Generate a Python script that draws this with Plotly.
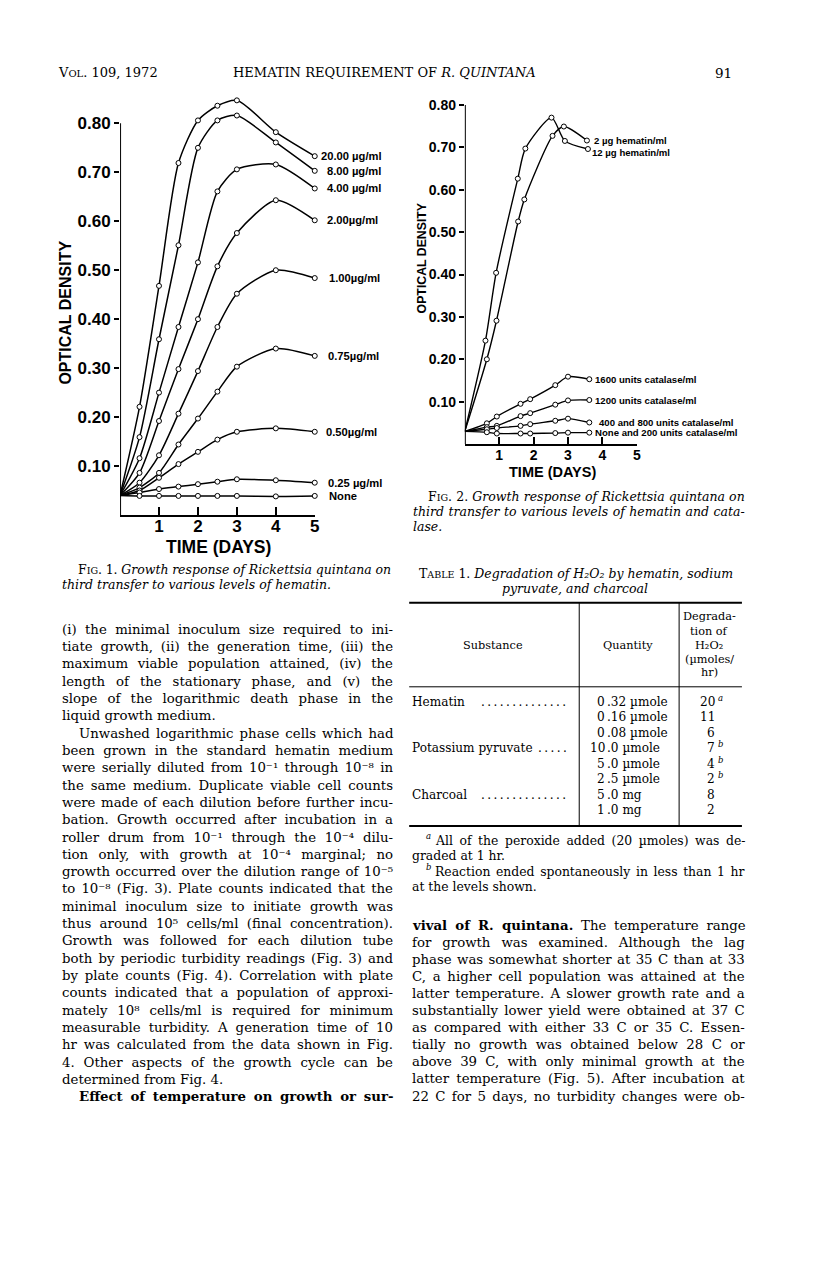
import json
import plotly.graph_objects as go

W, H = 816, 1264

# ---------------- Fig. 1 data (optical density vs time, days) ----------------
fig1_days = [0, 0.5, 1, 1.5, 2, 2.5, 3, 4, 5]
fig1_od_20ug = [0.040, 0.221, 0.468, 0.719, 0.806, 0.836, 0.847, 0.782, 0.733]
fig1_od_8ug = [0.040, 0.159, 0.359, 0.551, 0.750, 0.806, 0.816, 0.761, 0.703]
fig1_od_4ug = [0.040, 0.116, 0.250, 0.384, 0.516, 0.661, 0.706, 0.716, 0.667]
fig1_od_2ug = [0.040, 0.086, 0.192, 0.298, 0.400, 0.508, 0.576, 0.643, 0.602]
fig1_od_1ug = [0.040, 0.066, 0.122, 0.207, 0.294, 0.384, 0.452, 0.500, 0.484]
fig1_od_075ug = [0.040, 0.056, 0.086, 0.144, 0.197, 0.252, 0.303, 0.340, 0.325]
fig1_od_05ug = [0.040, 0.050, 0.076, 0.104, 0.129, 0.154, 0.170, 0.177, 0.170]
fig1_od_025ug = [0.040, 0.046, 0.053, 0.058, 0.063, 0.068, 0.073, 0.071, 0.066]
fig1_od_none = [0.040, 0.039, 0.039, 0.039, 0.039, 0.039, 0.039, 0.038, 0.039]
fig1_labels = ["20.00 µg/ml", "8.00 µg/ml", "4.00 µg/ml", "2.00µg/ml", "1.00µg/ml",
               "0.75µg/ml", "0.50µg/ml", "0.25 µg/ml", "None"]
fig1_series = [fig1_od_20ug, fig1_od_8ug, fig1_od_4ug, fig1_od_2ug, fig1_od_1ug,
               fig1_od_075ug, fig1_od_05ug, fig1_od_025ug, fig1_od_none]

# ---------------- Fig. 2 data ----------------
fig2_days_2ug = [0, 0.64, 0.92, 1.55, 1.73, 2.55, 2.88, 3.55]
fig2_od_2ug = [0.030, 0.200, 0.291, 0.525, 0.577, 0.727, 0.749, 0.716]
fig2_days_12ug = [0, 0.60, 0.91, 1.54, 1.76, 2.52, 2.91, 3.58]
fig2_od_12ug = [0.030, 0.244, 0.404, 0.626, 0.697, 0.770, 0.715, 0.696]
fig2_days_cat = [0, 0.64, 0.93, 1.62, 1.90, 2.63, 3.00, 3.62]
fig2_od_1600 = [0.030, 0.049, 0.065, 0.095, 0.106, 0.139, 0.159, 0.153]
fig2_od_1200 = [0.030, 0.040, 0.043, 0.066, 0.073, 0.093, 0.103, 0.104]
fig2_od_400_800 = [0.030, 0.035, 0.038, 0.043, 0.047, 0.055, 0.060, 0.051]
fig2_od_none_200 = [0.030, 0.028, 0.025, 0.025, 0.025, 0.026, 0.027, 0.027]
fig2_labels = ["2 µg hematin/ml", "12 µg hematin/ml", "1600 units catalase/ml",
               "1200 units catalase/ml", "400 and 800 units catalase/ml",
               "None and 200 units catalase/ml"]
fig2_x = [fig2_days_2ug, fig2_days_12ug, fig2_days_cat, fig2_days_cat, fig2_days_cat, fig2_days_cat]
fig2_y = [fig2_od_2ug, fig2_od_12ug, fig2_od_1600, fig2_od_1200, fig2_od_400_800, fig2_od_none_200]

# ---------------- axis ticks ----------------
od_ticks = [0.10, 0.20, 0.30, 0.40, 0.50, 0.60, 0.70, 0.80]
od_ticktext = ["0.10", "0.20", "0.30", "0.40", "0.50", "0.60", "0.70", "0.80"]
day_ticks = [1, 2, 3, 4, 5]
day_ticktext = ["1", "2", "3", "4", "5"]

# ---------------- Table 1 ----------------
table_substance = ["Hematin", "", "", "Potassium pyruvate", "", "", "Charcoal", ""]
table_quantity = ["0.32 µmole", "0.16 µmole", "0.08 µmole", "10.0 µmole", "5.0 µmole",
                  "2.5 µmole", "5.0 mg", "1.0 mg"]
table_degradation = ["20", "11", "6", "7", "4", "2", "8", "2"]
table_notes = ["a", "", "", "b", "b", "b", "", ""]

# ---------------- running text ----------------
left_col = [
    "(i) the minimal inoculum size required to ini-",
    "tiate growth, (ii) the generation time, (iii) the",
    "maximum viable population attained, (iv) the",
    "length of the stationary phase, and (v) the",
    "slope of the logarithmic death phase in the",
    "liquid growth medium.",
    "Unwashed logarithmic phase cells which had",
    "been grown in the standard hematin medium",
    "were serially diluted from 10⁻¹ through 10⁻⁸ in",
    "the same medium. Duplicate viable cell counts",
    "were made of each dilution before further incu-",
    "bation. Growth occurred after incubation in a",
    "roller drum from 10⁻¹ through the 10⁻⁴ dilu-",
    "tion only, with growth at 10⁻⁴ marginal; no",
    "growth occurred over the dilution range of 10⁻⁵",
    "to 10⁻⁸ (Fig. 3). Plate counts indicated that the",
    "minimal inoculum size to initiate growth was",
    "thus around 10⁵ cells/ml (final concentration).",
    "Growth was followed for each dilution tube",
    "both by periodic turbidity readings (Fig. 3) and",
    "by plate counts (Fig. 4). Correlation with plate",
    "counts indicated that a population of approxi-",
    "mately 10⁸ cells/ml is required for minimum",
    "measurable turbidity. A generation time of 10",
    "hr was calculated from the data shown in Fig.",
    "4. Other aspects of the growth cycle can be",
    "determined from Fig. 4.",
    "<b>Effect of temperature on growth or sur-</b>",
]
left_indent = [6, 27]
left_para_end = [5, 26]
right_col = [
    "<b>vival of R. quintana.</b> The temperature range",
    "for growth was examined. Although the lag",
    "phase was somewhat shorter at 35 C than at 33",
    "C, a higher cell population was attained at the",
    "latter temperature. A slower growth rate and a",
    "substantially lower yield were obtained at 37 C",
    "as compared with either 33 C or 35 C. Essen-",
    "tially no growth was obtained below 28 C or",
    "above 39 C, with only minimal growth at the",
    "latter temperature (Fig. 5). After incubation at",
    "22 C for 5 days, no turbidity changes were ob-",
]

SERIF = "DejaVu Serif"
SANS = "Liberation Sans, Arial, sans-serif"


def SC(s, size):
    return "<span style='font-size:%gpx'>%s</span>" % (size, s)


def X(px):
    return px / W


def Y(py):
    return 1 - py / H


annotations = []
justify = {}


def txt(s, px, py, size, family=SERIF, xanchor="left", style="normal", weight="normal",
        angle=0, just=None):
    annotations.append(dict(
        text=s, x=X(px), y=Y(py), xref="paper", yref="paper",
        xanchor=xanchor, yanchor="middle", showarrow=False, borderpad=0,
        align={"left": "left", "center": "center", "right": "right"}[xanchor],
        textangle=angle,
        font=dict(family=family, size=size, color="black", style=style, weight=weight)))
    if just is not None:
        justify[str(len(annotations) - 1)] = just
    return len(annotations) - 1


fig = go.Figure()

# ---------------- Fig. 1 ----------------
for vals in fig1_series:
    fig.add_trace(go.Scatter(
        x=fig1_days, y=vals, mode="lines+markers", xaxis="x", yaxis="y",
        line=dict(color="black", width=1.5, shape="spline", smoothing=0.7),
        marker=dict(symbol="circle", size=5, color="white",
                    opacity=[0] + [1] * (len(vals) - 1),
                    line=dict(color="black", width=1)),
        cliponaxis=False, showlegend=False, hoverinfo="skip"))

fig1_label_dx = [5, 11, 11, 11, 13, 12, 10, 12, 13]
for lab, vals, dx in zip(fig1_labels, fig1_series, fig1_label_dx):
    annotations.append(dict(
        text=lab, x=fig1_days[-1], y=vals[-1], xref="x", yref="y", xanchor="left",
        yanchor="middle", xshift=dx, showarrow=False, borderpad=0,
        font=dict(family=SANS, size=11.2, color="black", weight="bold")))

# ---------------- Fig. 2 ----------------
for xs, ys in zip(fig2_x, fig2_y):
    fig.add_trace(go.Scatter(
        x=xs, y=ys, mode="lines+markers", xaxis="x2", yaxis="y2",
        line=dict(color="black", width=1.4, shape="spline", smoothing=0.7),
        marker=dict(symbol="circle", size=5, color="white",
                    opacity=[0] + [1] * (len(ys) - 1),
                    line=dict(color="black", width=1)),
        cliponaxis=False, showlegend=False, hoverinfo="skip"))

fig2_label_dx = [6, 3, 4.5, 4.5, 9, 4.5]
fig2_label_dy = [0, -3.5, 0, 0, 0, 0]
for lab, xs, ys, dx, dy in zip(fig2_labels, fig2_x, fig2_y, fig2_label_dx, fig2_label_dy):
    annotations.append(dict(
        text=lab, x=xs[-1], y=ys[-1], xref="x2", yref="y2", xanchor="left",
        yanchor="middle", xshift=dx, yshift=dy, showarrow=False, borderpad=0,
        font=dict(family=SANS, size=9.6, color="black", weight="bold")))

# axis titles
txt("OPTICAL DENSITY", 65, 313, 16, SANS, "center", weight="bold", angle=-90)
txt("TIME (DAYS)", 220, 547, 17.5, SANS, "center", weight="bold")
txt("OPTICAL DENSITY", 425, 258, 12.3, SANS, "center", weight="bold", angle=-90)
txt("TIME (DAYS)", 556, 472, 14.5, SANS, "center", weight="bold")

# ---------------- page header ----------------
txt("V" + SC("OL", 10) + ". 109, 1972", 57, 73, 13)
txt("HEMATIN REQUIREMENT OF <i>R. QUINTANA</i>", 233, 73, 13)
txt("91", 738, 73, 13.5, xanchor="right")

# ---------------- captions ----------------
txt("F" + SC("IG", 9.5) + ". 1. <i>Growth response of Rickettsia quintana on</i>", 77, 569, 12.5,
    just=390 - 77)
txt("<i>third transfer to various levels of hematin.</i>", 61, 584.5, 12.5)
txt("F" + SC("IG", 9.5) + ". 2. <i>Growth response of Rickettsia quintana on</i>", 430, 496, 12.5,
    just=746.7 - 430)
txt("<i>third transfer to various levels of hematin and cata-</i>", 415, 511, 12.5,
    just=746.7 - 415)
txt("<i>lase.</i>", 415, 526, 12.5)

# ---------------- table ----------------
txt("T" + SC("ABLE", 9.5) + " 1. <i>Degradation of H₂O₂ by hematin, sodium</i>", 580, 573.5, 12.5,
    xanchor="center")
txt("<i>pyruvate, and charcoal</i>", 579, 588.5, 12.5, xanchor="center")
txt("Substance", 496, 645, 11.3, xanchor="center")
txt("Quantity", 632, 645, 11.3, xanchor="center")
for s, yy in zip(["Degrada-", "tion of", "H₂O₂", "(µmoles/", "hr)"],
                 [616.7, 631, 645, 659.3, 672.7]):
    txt(s, 713.5, yy, 11.3, xanchor="center")

TB = 12.1
row_y0, row_dy = 701.8, 15.5
dot_counts = {"Hematin": 14, "Potassium pyruvate": 5, "Charcoal": 14}
for i in range(len(table_quantity)):
    yy = row_y0 + i * row_dy
    sub = table_substance[i]
    if sub:
        txt(sub, 413.3, yy, TB)
        txt(".\u2009" * dot_counts[sub], 574, yy, TB, xanchor="right")
    whole, frac = table_quantity[i].split(".", 1)
    txt(whole, 610, yy, TB, xanchor="right")
    txt("." + frac, 610, yy, TB)
    txt(table_degradation[i], 720.5, yy, TB, xanchor="right")
    if table_notes[i]:
        txt(table_notes[i], 721, yy - 4, 8.5, style="italic")

fig.add_shape(type="line", xref="paper", yref="paper", x0=X(411.7), x1=X(746.5),
              y0=Y(602.8), y1=Y(602.8), line=dict(color="black", width=2))
fig.add_shape(type="line", xref="paper", yref="paper", x0=X(411.7), x1=X(746.5),
              y0=Y(686.8), y1=Y(686.8), line=dict(color="black", width=1))
fig.add_shape(type="line", xref="paper", yref="paper", x0=X(411.7), x1=X(746.5),
              y0=Y(826), y1=Y(826), line=dict(color="black", width=2))
for xv in [582.8, 683.3]:
    fig.add_shape(type="line", xref="paper", yref="paper", x0=X(xv), x1=X(xv),
                  y0=Y(603), y1=Y(826), line=dict(color="black", width=1))

# footnotes
txt("a", 428, 836, 8.5, style="italic")
txt("All of the peroxide added (20 µmoles) was de-", 437, 840.5, 12.4, just=746.5 - 437)
txt("graded at 1 hr.", 413.3, 855.5, 12.4)
txt("b", 428, 866.5, 8.5, style="italic")
txt("Reaction ended spontaneously in less than 1 hr", 437, 871, 12.4, just=746.5 - 437)
txt("at the levels shown.", 413.3, 886.5, 12.4)

# ---------------- body text ----------------
for i, line in enumerate(left_col):
    x0 = 78.3 if i in left_indent else 61.7
    yy = 629.3 + i * 17.31
    txt(line, x0, yy, 13.3, just=None if i in left_para_end else 392.7 - x0)
for i, line in enumerate(right_col):
    yy = 925 + i * 17.1
    txt(line, 414, yy, 13.3, just=746.7 - 414)

# ---------------- axes ----------------
tickfont1 = dict(family=SANS, size=17, color="black", weight="bold")
tickfont2 = dict(family=SANS, size=14, color="black", weight="bold")
fig.update_layout(
    width=W, height=H, margin=dict(l=0, r=0, t=0, b=0),
    paper_bgcolor="white", plot_bgcolor="rgba(0,0,0,0)", showlegend=False,
    xaxis=dict(domain=[X(120.8), X(316.7)], range=[0, 5], anchor="y",
               showline=True, linewidth=2, linecolor="black", ticks="inside",
               ticklen=8, tickwidth=2, tickcolor="black", tickvals=day_ticks,
               ticktext=day_ticktext, tickfont=tickfont1, ticklabelstandoff=-5,
               showgrid=False, zeroline=False),
    yaxis=dict(domain=[Y(515), Y(74.4)], range=[0, 0.9], anchor="x",
               showline=False, ticks="outside", ticklen=5, tickwidth=2, tickcolor="black",
               tickvals=od_ticks, ticktext=od_ticktext, tickfont=tickfont1,
               showgrid=False, zeroline=False),
    xaxis2=dict(domain=[X(467.7), X(640.7)], range=[0, 5], anchor="y2",
                showline=True, linewidth=2, linecolor="black", ticks="inside",
                ticklen=7, tickwidth=2, tickcolor="black", tickvals=day_ticks,
                ticktext=day_ticktext, tickfont=tickfont2, ticklabelstandoff=-3,
                showgrid=False, zeroline=False),
    yaxis2=dict(domain=[Y(444.1), Y(83.7)], range=[0, 0.85], anchor="x2",
                showline=False, ticks="outside", ticklen=5, tickwidth=2, tickcolor="black",
                tickvals=od_ticks, ticktext=od_ticktext, tickfont=tickfont2,
                showgrid=False, zeroline=False),
    annotations=annotations,
)
# y-axis lines stop at the 0.80 tick
fig.add_shape(type="line", xref="x", yref="y", x0=0, x1=0, y0=0, y1=0.8,
              line=dict(color="black", width=2))
fig.add_shape(type="line", xref="x2", yref="y2", x0=0, x1=0, y0=0, y1=0.8,
              line=dict(color="black", width=2))

post = """
document.body.style.margin = '0px';
var gd = document.getElementById('{plot_id}');
var J = __J__;
function justifyLines(){
  var gs = gd.querySelectorAll('g.annotation');
  for (var k = 0; k < gs.length; k++) {
    var g = gs[k];
    var i = g.getAttribute('data-index');
    if (!(i in J)) continue;
    var t = g.querySelector('text');
    if (!t) continue;
    t.style.wordSpacing = '0px';
    var n = (t.textContent.match(/[ \\u00a0]/g) || []).length;
    if (!n) continue;
    var w = t.getComputedTextLength();
    var ws = (J[i] - w) / n;
    if (ws > -3 && ws < 15) t.style.wordSpacing = ws + 'px';
  }
}
justifyLines();
""".replace("__J__", json.dumps(justify))

fig.write_html("out.html", config={"staticPlot": True}, post_script=post)
